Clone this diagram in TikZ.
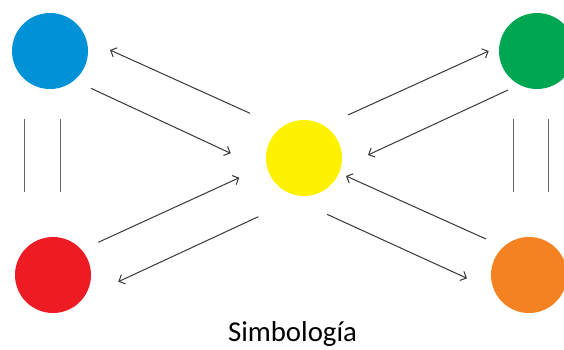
\documentclass[tikz,border=0pt]{standalone}
\usepackage{fontspec}
\setmainfont{Carlito}
\definecolor{symblue}{RGB}{0,146,214}
\definecolor{symgreen}{RGB}{0,166,81}
\definecolor{symyellow}{RGB}{255,242,0}
\definecolor{symred}{RGB}{237,28,36}
\definecolor{symorange}{RGB}{245,130,32}
\definecolor{symline}{RGB}{55,55,55}
\usetikzlibrary{arrows.meta,calc}

\begin{document}
\begin{tikzpicture}[x=1pt,y=-1pt,
  dot/.style={circle,minimum size=76pt,inner sep=0pt},
  arr/.style={-{Straight Barb[length=5pt,width=10pt]},symline,line width=1pt},
  pair/.style={draw=black!60,line width=1pt}
]
  \useasboundingbox (0,0) rectangle (564,349);
  \clip (0,0) rectangle (564,349);

  % Circles
  \node[dot,fill=symblue] (blue) at (50,51) {};
  \node[dot,fill=symgreen] (green) at (537,51) {};
  \node[dot,fill=symyellow] (yellow) at (304,158) {};
  \node[dot,fill=symred] (red) at (53,275) {};
  \node[dot,fill=symorange] (orange) at (529,275) {};

  % Arrows to and from the centre
  \draw[arr] ($(yellow)+(-54,-44.7)$) -- ($(blue)+(60,-1)$);
  \draw[arr] ($(blue)+(41,37.3)$) -- ($(yellow)+(-73.3,-4.7)$);
  \draw[arr] ($(yellow)+(44,-43)$) -- ($(green)+(-48.3,0)$);
  \draw[arr] ($(green)+(-29,39)$) -- ($(yellow)+(64,-3)$);
  \draw[arr] ($(red)+(45.3,-32.7)$) -- ($(yellow)+(-64.7,19.7)$);
  \draw[arr] ($(yellow)+(-45.7,58.7)$) -- ($(red)+(65.3,6.7)$);
  \draw[arr] ($(orange)+(-43,-36)$) -- ($(yellow)+(42,18)$);
  \draw[arr] ($(yellow)+(23,56.3)$) -- ($(orange)+(-62,3.3)$);

  % Double lines
  \draw[pair] ($(blue)+(-26,68.3)$) -- ($(red)+(-29,-83.3)$);
  \draw[pair] ($(blue)+(10,68.3)$) -- ($(red)+(7,-83.3)$);
  \draw[pair] ($(green)+(-23.3,68.3)$) -- ($(orange)+(-15.3,-83.3)$);
  \draw[pair] ($(green)+(11.7,68.3)$) -- ($(orange)+(19.7,-83.3)$);

  % Caption
  \node[anchor=base,font=\fontsize{28.8}{34}\selectfont,inner sep=0pt] (caption) at (292.5,341.7) {Simbología};
\end{tikzpicture}
\end{document}
